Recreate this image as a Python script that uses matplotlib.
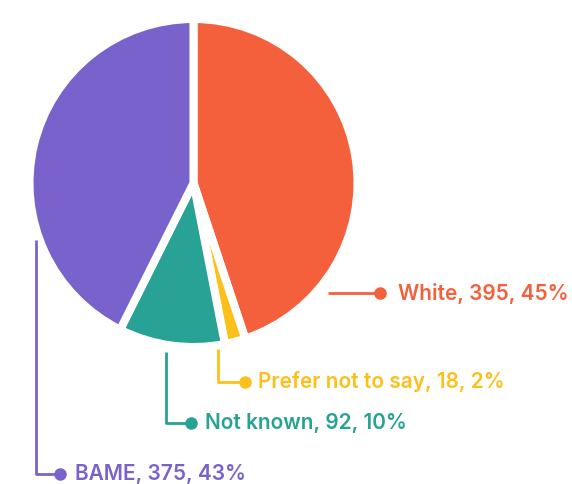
import matplotlib.pyplot as plt

# ethnicity breakdown
labels = ['White', 'Prefer not to say', 'Not known', 'BAME']
counts = [395, 18, 92, 375]
percents = [45, 2, 10, 43]
colors = ['#F4603C', '#FDC01A', '#27A294', '#7A62CC']

W, H = 572, 484
fig = plt.figure(figsize=(W / 100, H / 100), dpi=100)
ax = fig.add_axes([0, 0, 1, 1])

# pie drawn in pixel-like data units (y up); thick white edges make the gaps
ax.pie(counts, colors=colors, startangle=90, counterclock=False,
       center=(193.5, H - 183), radius=164,
       wedgeprops=dict(linewidth=5.8, edgecolor='white'), frame=True)
ax.set_xlim(0, W)
ax.set_ylim(0, H)
ax.axis('off')

# callout lines: list of (x, y) points in pixels from the top, last is the dot
callouts = [
    [(328, 293), (380, 293)],
    [(218, 349), (218, 382), (245, 382)],
    [(166, 352), (166, 423), (191, 423)],
    [(36, 240), (36, 474), (60, 474)],
]
text_x = [398, 258, 205, 75]

for pts, tx, lab, n, p, c in zip(callouts, text_x, labels, counts, percents, colors):
    xs = [q[0] for q in pts]
    ys = [H - q[1] for q in pts]
    ax.plot(xs, ys, color=c, linewidth=2, solid_capstyle='butt')
    ax.plot(xs[-1], ys[-1], 'o', color=c, markersize=8)
    ax.text(tx, ys[-1], f'{lab}, {n}, {p}%', color=c, fontsize=15,
            fontfamily='Inter', fontweight='semibold', va='center', ha='left')

plt.savefig('out.png', dpi=100)
